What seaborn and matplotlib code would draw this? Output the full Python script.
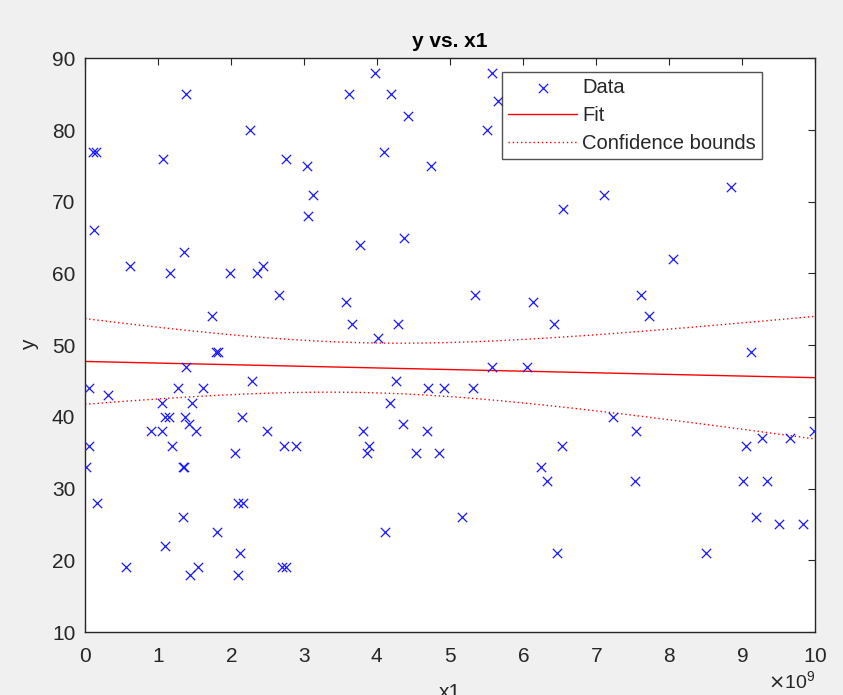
import numpy as np
import pandas as pd
import matplotlib
matplotlib.use('Agg')
import matplotlib.pyplot as plt
import seaborn as sns

# x1 values in units of 1e9
x1_e9 = [1.38, 0.105, 0.15, 1.07, 2.26, 2.76, 3.04, 3.13, 3.05, 0.128,
         0.61, 1.35, 1.17, 1.985, 2.35, 2.44, 2.66, 1.74, 1.79, 1.82,
         1.39, 0.06, 0.31, 1.27, 1.61, 2.29, 1.05, 1.46, 1.10, 1.15,
         1.37, 1.42, 0.90, 1.05, 1.52, 2.15, 2.50, 0.06, 1.19, 2.73,
         2.89, 2.05, 0.02, 1.34, 1.36, 0.16, 2.09, 2.17, 1.34, 1.81,
         1.10, 2.13, 0.56, 1.55, 1.44, 2.10, 2.70, 2.76,
         3.97, 3.61, 4.19, 4.42, 4.10, 4.74, 5.57, 5.66, 5.51, 3.77,
         4.37, 3.57, 3.66, 4.29, 4.01, 5.34, 6.14, 6.42, 5.58, 6.05,
         4.26, 4.18, 4.70, 4.92, 5.31, 4.35, 3.81, 4.68, 3.89, 3.87,
         4.54, 4.85, 6.53, 6.25, 6.33, 5.17, 4.11, 6.46, 6.55,
         7.11, 8.85, 8.05, 7.62, 7.72, 9.12, 7.23, 7.55, 7.53, 9.05,
         9.28, 9.66, 9.99, 9.01, 9.34, 9.19, 9.51, 9.83, 8.51]
y_vals = [85, 77, 77, 76, 80, 76, 75, 71, 68, 66,
          61, 63, 60, 60, 60, 61, 57, 54, 49, 49,
          47, 44, 43, 44, 44, 45, 42, 42, 40, 40,
          40, 39, 38, 38, 38, 40, 38, 36, 36, 36,
          36, 35, 33, 33, 33, 28, 28, 28, 26, 24,
          22, 21, 19, 19, 18, 18, 19, 19,
          88, 85, 85, 82, 77, 75, 88, 84, 80, 64,
          65, 56, 53, 53, 51, 57, 56, 53, 47, 47,
          45, 42, 44, 44, 44, 39, 38, 38, 36, 35,
          35, 35, 36, 33, 31, 26, 24, 21, 69,
          71, 72, 62, 57, 54, 49, 40, 38, 31, 36,
          37, 37, 38, 31, 31, 26, 25, 25, 21]

x_ticks = list(range(0, 11))
y_ticks = list(range(10, 91, 10))

df = pd.DataFrame({'x1': np.array(x1_e9) * 1e9, 'y': y_vals})

# linear fit and 95% confidence bounds for the fitted line
X = df['x1'].values
Y = df['y'].values
n = len(X)
slope, intercept = np.polyfit(X, Y, 1)
resid = Y - (slope * X + intercept)
s = np.sqrt(np.sum(resid ** 2) / (n - 2))
xbar = X.mean()
sxx = np.sum((X - xbar) ** 2)
crit = 1.98  # t(0.975, n-2)
xx = np.linspace(0, 1e10, 200)
yfit = intercept + slope * xx
half = crit * s * np.sqrt(1.0 / n + (xx - xbar) ** 2 / sxx)

sns.set_style('white')
plt.rcParams['font.family'] = ['Liberation Sans', 'DejaVu Sans']

fig = plt.figure(figsize=(8.43, 6.95), dpi=100, facecolor='#f0f0f0')
ax = fig.add_axes([0.1008, 0.0906, 0.866, 0.8255])
ax.set_facecolor('white')

sns.scatterplot(data=df, x='x1', y='y', marker='x', color='#1a1aff', s=45,
                linewidth=0.9, ax=ax, label='Data', zorder=3)
ax.plot(xx, yfit, color='#ff0000', lw=1.0, label='Fit')
ax.plot(xx, yfit + half, color='#ff0000', lw=1.0, ls=(0, (1, 2)),
        label='Confidence bounds')
ax.plot(xx, yfit - half, color='#ff0000', lw=1.0, ls=(0, (1, 2)))

ax.set_xlim(0, 1e10)
ax.set_ylim(10, 90)
ax.set_xticks(np.array(x_ticks) * 1e9)
ax.set_yticks(y_ticks)
ax.ticklabel_format(axis='x', style='sci', scilimits=(9, 9), useMathText=True)
ax.xaxis.get_offset_text().set_fontsize(14)
ax.xaxis.get_offset_text().set_color('#262626')

ax.tick_params(direction='in', length=5, width=0.8, top=True, right=True,
               labelsize=15, colors='#262626')
ax.tick_params(axis='x', pad=11)
ax.tick_params(axis='y', pad=7)
for sp in ax.spines.values():
    sp.set_color('#262626')
    sp.set_linewidth(1.0)

ax.set_title('y vs. x1', fontsize=15, fontweight='bold', color='black', pad=8)
ax.set_xlabel('x1', fontsize=15, color='#262626', labelpad=12)
ax.set_ylabel('y', fontsize=15, color='#262626', labelpad=9)

leg = ax.legend(loc='upper right', bbox_to_anchor=(0.927, 0.976),
                borderaxespad=0, fontsize=14.5, frameon=True, fancybox=False,
                handlelength=3.4, labelspacing=0.45, handletextpad=0.25,
                borderpad=0.3, markerscale=1.0)
leg.get_frame().set_edgecolor('#262626')
leg.get_frame().set_linewidth(1.0)

fig.savefig('out.png', dpi=100, facecolor=fig.get_facecolor())
